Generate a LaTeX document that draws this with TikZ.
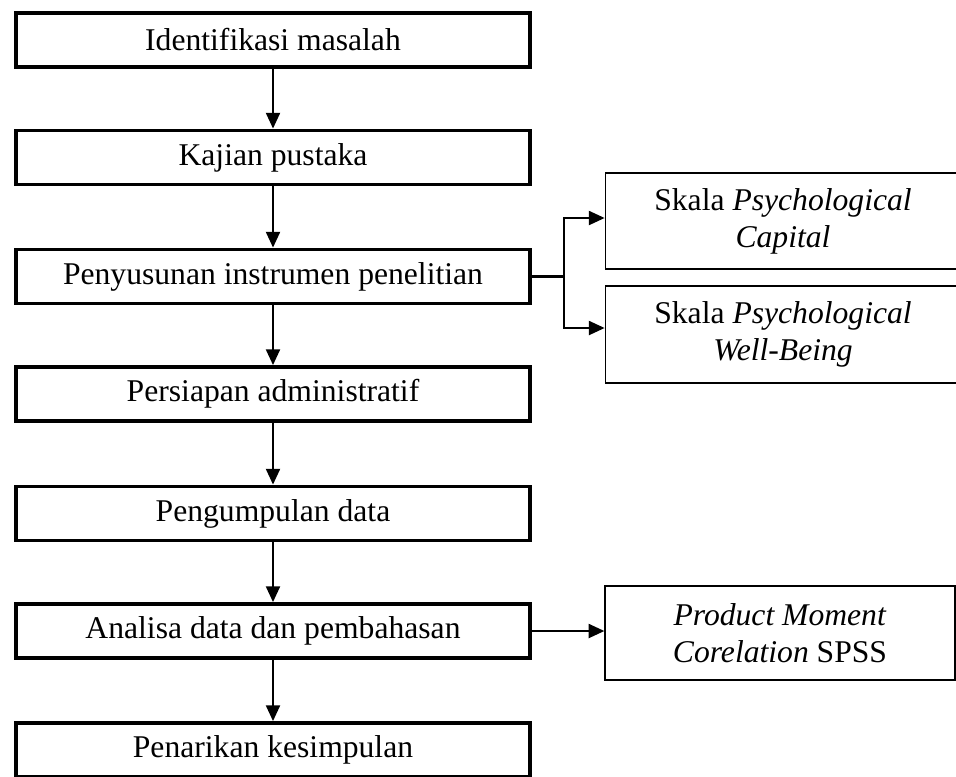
\documentclass[tikz,border=0pt]{standalone}
\usepackage{fontspec}
\setmainfont{Liberation Serif}
\usetikzlibrary{arrows.meta}

\begin{document}
\begin{tikzpicture}[
  stepbox/.style={draw, line width=2.2pt, minimum width=10.28cm, minimum height=1.08cm, inner sep=0pt, font=\fontsize{18}{21}\selectfont},
  sidebox/.style={draw, line width=1pt, align=center, inner sep=0pt, font=\fontsize{18}{21}\selectfont},
  flow/.style={-{Triangle[length=9pt,width=8pt]}, line width=1.2pt}]
\useasboundingbox (0,0) rectangle (19.12,-15.52);
% main steps
\node[stepbox] (ident) at (5.46,-0.80) {Identifikasi masalah};
\node[stepbox] (kajian) at (5.46,-3.15) {Kajian pustaka};
\node[stepbox] (instrumen) at (5.46,-5.53) {Penyusunan instrumen penelitian};
\node[stepbox] (admin) at (5.46,-7.88) {Persiapan administratif};
\node[stepbox] (kumpul) at (5.46,-10.27) {Pengumpulan data};
\node[stepbox] (analisa) at (5.46,-12.62) {Analisa data dan pembahasan};
\node[stepbox] (simpul) at (5.46,-15.00) {Penarikan kesimpulan};
% side boxes
\node[sidebox, minimum width=7.1cm, minimum height=1.92cm] (capital) at (15.66,-4.42) {Skala \textit{Psychological}\\\textit{Capital}};
\node[sidebox, minimum width=7.1cm, minimum height=1.94cm] (wellbeing) at (15.66,-6.69) {Skala \textit{Psychological}\\\textit{Well-Being}};
\node[sidebox, minimum width=6.99cm, minimum height=1.88cm] (spss) at (15.60,-12.66) {\textit{Product Moment}\\\textit{Corelation} SPSS};
% arrows
\draw[flow] (ident) -- (kajian);
\draw[flow] (kajian) -- (instrumen);
\draw[flow] (instrumen) -- (admin);
\draw[flow] (admin) -- (kumpul);
\draw[flow] (kumpul) -- (analisa);
\draw[flow] (analisa) -- (simpul);
\coordinate (split) at (11.28,-5.53);
\draw[line width=1.2pt] (instrumen.east) -- (split);
\draw[flow] (split) |- ([yshift=0.06cm]capital.west);
\draw[flow] (split) |- ([yshift=0.13cm]wellbeing.west);
\draw[flow] (analisa.east) -- (analisa.east -| spss.west);
\end{tikzpicture}
\end{document}
